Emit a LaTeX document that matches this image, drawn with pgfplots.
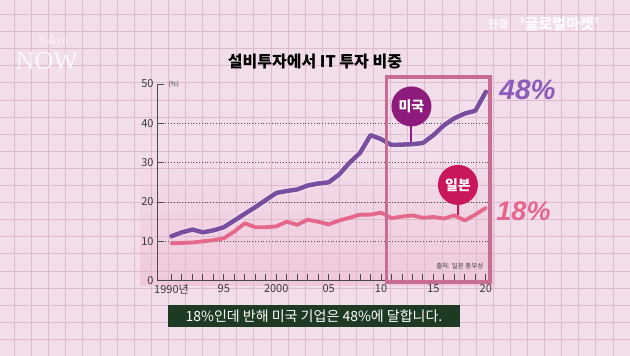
\documentclass[border=0pt]{standalone}
\usepackage{pgfplots}
\usepackage{pgfplotstable}
\pgfplotsset{compat=1.18}
\usepackage{fontspec}
\setmainfont{Noto Sans CJK KR}
\newfontfamily\latinfont{Liberation Sans}
\newfontfamily\seriffont{Liberation Serif}

\definecolor{bgpink}{HTML}{F2DDEA}
\definecolor{lowpink}{HTML}{F0C9DB}
\definecolor{gridpink}{HTML}{DCBBCE}
\definecolor{usline}{HTML}{7A4E9F}
\definecolor{jpline}{HTML}{E5678A}
\definecolor{boxpink}{HTML}{C86B95}
\definecolor{usbubble}{HTML}{8E1C7D}
\definecolor{jpbubble}{HTML}{C8175D}
\definecolor{capgreen}{HTML}{1F3A22}
\definecolor{axisgray}{HTML}{4A4A4A}
\definecolor{labelgray}{HTML}{3A3A3A}
\definecolor{uspct}{HTML}{8B5CB8}
\definecolor{jppct}{HTML}{E8658E}

\pgfplotstableread{
year us
1990 11.3
1991 12.3
1992 13.0
1993 12.3
1994 12.8
1995 13.6
1996 15.3
1997 17.0
1998 18.7
1999 20.5
2000 22.3
2001 22.8
2002 23.2
2003 24.2
2004 24.7
2005 25.0
2006 27.0
2007 30.0
2008 32.5
2009 37.0
2010 36.0
2011 34.5
2012 34.6
2013 34.7
2014 35.0
2015 37.0
2016 39.5
2017 41.3
2018 42.5
2019 43.2
2020 48.0
}\usdata

\pgfplotstableread{
year jp
1990 9.5
1991 9.6
1992 9.7
1993 10.0
1994 10.3
1995 10.8
1996 12.5
1997 14.6
1998 13.6
1999 13.6
2000 13.8
2001 15.0
2002 14.2
2003 15.5
2004 15.0
2005 14.3
2006 15.3
2007 16.0
2008 16.8
2009 16.8
2010 17.3
2011 15.9
2012 16.3
2013 16.6
2014 16.0
2015 16.2
2016 15.8
2017 16.6
2018 15.3
2019 16.8
2020 18.5
}\jpdata

\begin{document}
\begin{tikzpicture}
\begin{scope}[x=1pt,y=1pt]
\fill[bgpink] (0,0) rectangle (630,356);
\shade[bottom color=lowpink, top color=bgpink] (140,70) rectangle (495,200);
\foreach \i in {0,...,36} {\draw[gridpink, line width=0.7pt] ({14.4+17.1*\i},0) -- ({14.4+17.1*\i},356);}
\foreach \i in {0,...,19} {\draw[gridpink, line width=0.7pt] (0,{16.7+17.1*\i}) -- (630,{16.7+17.1*\i});}

% logos
\node[text=white, opacity=0.8, font=\seriffont\fontsize{12}{12}\selectfont] at (53,314) {Tokyo};
\node[text=white, opacity=0.8, font=\seriffont\fontsize{26}{26}\selectfont] at (47,295) {NOW};
\node[text=white, opacity=0.8, font=\bfseries\fontsize{11}{11}\selectfont, anchor=east] at (512,332) {한경};
\node[text=white, opacity=0.9, font=\bfseries\fontsize{15}{15}\selectfont, anchor=west] at (516,332) {'글로벌마켓'};

% title
\node[font=\bfseries\fontsize{16}{16}\selectfont, text=black] at (315,294.5) {설비투자에서 IT 투자 비중};
\end{scope}

\begin{axis}[
  at={(157pt,75.3pt)}, anchor=south west,
  scale only axis, width=333pt, height=196.7pt,
  xmin=1988.62, xmax=2020.4, ymin=0, ymax=50,
  axis x line*=bottom, axis y line*=left,
  axis line style={axisgray, line width=1pt},
  clip=false,
  xtick={1990,1995,...,2020},
  xticklabels={1990년,95,2000,05,10,15,20},
  minor x tick num=4,
  ytick={0,10,...,50},
  tick align=inside, major tick length=7pt, minor tick length=7pt,
  tick style={axisgray, line width=0.9pt},
  ticklabel style={font=\fontsize{11}{12}\selectfont, text=labelgray},
  /pgf/number format/assume math mode=true,
]
\pgfplotsinvokeforeach{10,20,30,40}{
  \draw[axisgray, dotted, line width=0.8pt] (axis cs:1988.62,#1) -- (axis cs:2020.4,#1);
}
\node[anchor=west, font=\fontsize{6.5}{7}\selectfont, text=labelgray] at (axis cs:1989.4,50) {(\%)};

\addplot[no marks, line width=6.5pt, color=white, opacity=0.45, line join=round] table[x=year, y=us] {\usdata};
\addplot[no marks, line width=4.5pt, usline, line join=round, line cap=round] table[x=year, y=us] {\usdata};
\addplot[no marks, line width=3.8pt, jpline, line join=round, line cap=round] table[x=year, y=jp] {\jpdata};

\draw[boxpink, line width=3.5pt] (axis cs:2010.53,-0.3) rectangle (axis cs:2020.39,51.8);

\draw[usbubble, line width=2pt] (axis cs:2012.9,35.2) -- (axis cs:2012.9,42);
\node[circle, fill=usbubble, minimum size=40pt, inner sep=0pt, text=white, font=\bfseries\fontsize{14}{14}\selectfont] at (axis cs:2012.9,44.3) {미국};
\draw[jpbubble, line width=2pt] (axis cs:2017.34,16.8) -- (axis cs:2017.34,22);
\node[circle, fill=jpbubble, minimum size=40pt, inner sep=0pt, text=white, font=\bfseries\fontsize{14}{14}\selectfont] at (axis cs:2017.34,24.35) {일본};

\node[anchor=east, font=\fontsize{6.5}{7}\selectfont, text=labelgray] at (axis cs:2020.1,3.7) {출처: 일본 총무성};
\end{axis}

\begin{scope}[x=1pt,y=1pt]
\node[font=\latinfont\bfseries\itshape\fontsize{28}{28}\selectfont, text=uspct] at (527.5,266) {48\%};
\node[font=\latinfont\bfseries\itshape\fontsize{27}{27}\selectfont, text=jppct] at (523.5,145) {18\%};

\fill[capgreen] (168,29.3) rectangle (460,50.5);
\node[text=white, font=\fontsize{14}{14}\selectfont] at (314,39.9) {18\%인데 반해 미국 기업은 48\%에 달합니다.};

\pgfresetboundingbox
\path[use as bounding box] (0,0) rectangle (630,356);
\end{scope}
\end{tikzpicture}
\end{document}
